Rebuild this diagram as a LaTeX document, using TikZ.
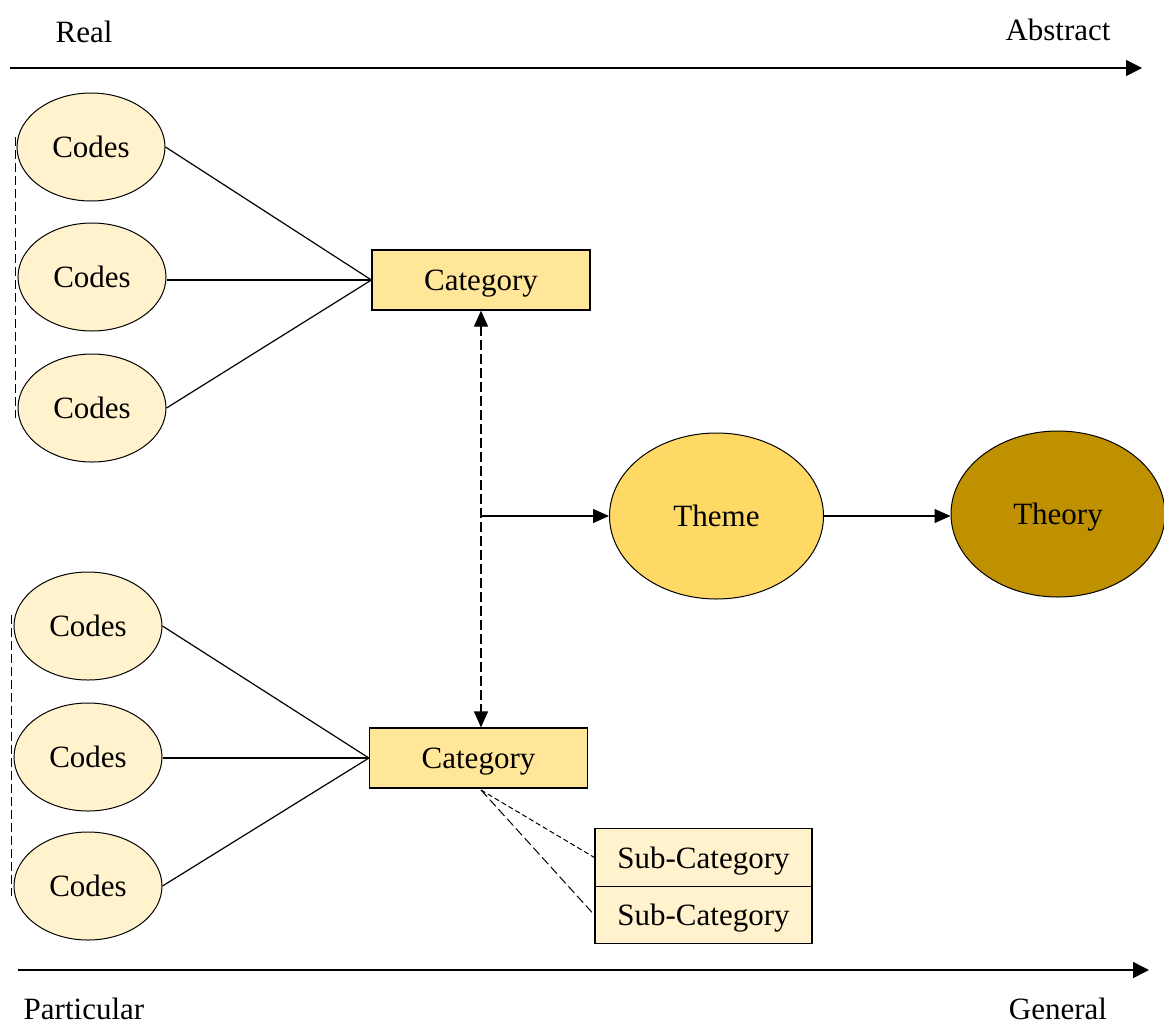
\documentclass[tikz,border=0pt]{standalone}
\usepackage{fontspec}
\setmainfont{Liberation Serif}
\usetikzlibrary{shapes.geometric,arrows.meta}
\definecolor{codefill}{HTML}{FFF2CC}
\definecolor{catfill}{HTML}{FFE699}
\definecolor{themefill}{HTML}{FFD966}
\definecolor{theoryfill}{HTML}{BF9000}
\tikzset{
  every node/.style={text depth=0pt},
  lbl/.style={font=\fontsize{31}{36}\selectfont, inner sep=0pt},
  codenode/.style={ellipse, draw, line width=1pt, fill=codefill, minimum width=148pt, minimum height=108pt, inner sep=0pt, font=\fontsize{31}{36}\selectfont},
  catnode/.style={rectangle, draw, line width=1.2pt, fill=catfill, minimum width=218pt, minimum height=60pt, inner sep=0pt, font=\fontsize{31}{36}\selectfont},
  subnode/.style={rectangle, draw, line width=1.2pt, fill=codefill, minimum width=217pt, minimum height=57.5pt, inner sep=0pt, font=\fontsize{31}{36}\selectfont},
  bignode/.style={ellipse, draw, line width=1pt, minimum width=214pt, minimum height=166pt, inner sep=0pt, font=\fontsize{31}{36}\selectfont},
  link/.style={line width=1.2pt},
  tip/.style={-{Triangle[length=16pt,width=14pt]}},
  axis/.style={line width=1.5pt, -{Triangle[length=16pt,width=16pt]}},
  grp/.style={line width=1pt, dash pattern=on 9pt off 4pt},
}
\begin{document}
\begin{tikzpicture}[x=1pt,y=-1pt]
\useasboundingbox (0,0) rectangle (1164,1026);

% axes
\node[lbl] (real) at (84,32) {Real};
\node[lbl] (abstract) at (1058,30) {Abstract};
\coordinate (ta) at (10,68);
\coordinate (tb) at (1142,68);
\draw[axis] (ta) -- (tb);

\node[lbl] (particular) at (84,1009) {Particular};
\node[lbl] (general) at (1058,1009) {General};
\coordinate (ba) at (18,970);
\coordinate (bb) at (1149,970);
\draw[axis] (ba) -- (bb);

% upper group of codes
\node[codenode] (c1) at (91,147) {Codes};
\node[codenode] (c2) at (92,277) {Codes};
\node[codenode] (c3) at (92,408) {Codes};
\node[catnode] (cat1) at (481,280) {Category};
\draw[link] (c1.east) -- (cat1.west);
\draw[link] (c2.east |- cat1.west) -- (cat1.west);
\draw[link] (c3.east) -- (cat1.west);
\coordinate (g1a) at (15,137);
\coordinate (g1b) at (15,418);
\draw[grp] (g1a) -- (g1b);

% lower group of codes
\node[codenode] (c4) at (88,626) {Codes};
\node[codenode] (c5) at (88,757) {Codes};
\node[codenode] (c6) at (88,886) {Codes};
\node[catnode] (cat2) at (478.5,758) {Category};
\draw[link] (c4.east) -- (cat2.west);
\draw[link] (c5.east |- cat2.west) -- (cat2.west);
\draw[link] (c6.east) -- (cat2.west);
\coordinate (g2a) at (11,615);
\coordinate (g2b) at (11,896);
\draw[grp] (g2a) -- (g2b);

% link between the two categories
\draw[link, dash pattern=on 10pt off 4pt, {Triangle[length=16pt,width=14pt]}-{Triangle[length=16pt,width=14pt]}]
  (cat1.south) -- (cat1.south |- cat2.north);

% theme and theory
\node[bignode, fill=themefill] (theme) at (716.5,516) {Theme};
\node[bignode, fill=theoryfill] (theory) at (1058,514) {Theory};
\coordinate (j) at (482,516);
\draw[link, tip] (j) -- (theme.west);
\draw[link, tip] (theme.east) -- (theme.east -| theory.west);

% sub-categories
\node[subnode] (s1) at (703.5,857.5) {Sub-Category};
\node[subnode] (s2) at (703.5,915) {Sub-Category};
\coordinate (sc) at (481,790);
\draw[line width=1pt, dash pattern=on 5pt off 3pt] (sc) -- (s1.west);
\draw[line width=1pt, dash pattern=on 9pt off 4pt] (sc) -- (s2.west);
\end{tikzpicture}
\end{document}
